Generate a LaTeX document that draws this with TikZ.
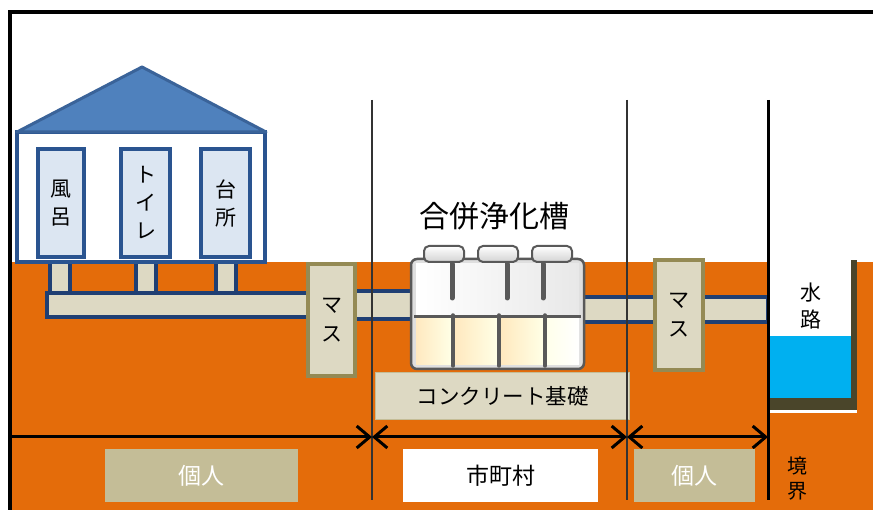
\documentclass[tikz,border=0pt]{standalone}
\usepackage{fontspec}
\setmainfont{Noto Sans CJK JP}
\usetikzlibrary{positioning,arrows.meta}

\definecolor{soil}{HTML}{E46C0A}
\definecolor{roofblue}{HTML}{4F81BD}
\definecolor{roofedge}{HTML}{3A6399}
\definecolor{navy}{HTML}{2A5490}
\definecolor{roomfill}{HTML}{DCE6F2}
\definecolor{pipeedge}{HTML}{1F3F73}
\definecolor{sand}{HTML}{DDD9C3}
\definecolor{olive}{HTML}{948A54}
\definecolor{khaki}{HTML}{C4BD97}
\definecolor{waterblue}{HTML}{00B0F0}
\definecolor{mud}{HTML}{4A452A}

\tikzset{
  room/.style={draw=navy, fill=roomfill, line width=4pt, minimum width=46pt, minimum height=108pt, align=center, font=\fontsize{21}{28}\selectfont},
  pipe/.style={draw=pipeedge, fill=sand, line width=4pt},
  masu/.style={draw=olive, fill=sand, line width=4pt, align=center, font=\fontsize{21}{29}\selectfont},
  tag/.style={fill=khaki, text=white, minimum height=52pt, font=\fontsize{23}{26}\selectfont},
  barb/.tip={Straight Barb[length=13pt,width=22pt]},
  dim/.style={line width=3pt}
}

\begin{document}
\begin{tikzpicture}[x=1pt, y=-1pt]
  \useasboundingbox (0,0) rectangle (873,510);
  \clip (0,0) rectangle (873,510);
  \fill[white] (0,0) rectangle (873,510);
  \draw[line width=4pt] (10,530) -- (10,12) -- (890,12);

  % ground
  \fill[soil] (12,262) rectangle (873,510);

  % drains under the house
  \foreach \x in {60,146,226}
    \draw[pipe] (\x-10,258) rectangle (\x+10,293);
  \draw[pipe] (47,293) rectangle (312,317);

  % house
  \draw[fill=white, draw=navy, line width=4pt] (17,132) rectangle (265,262);
  \draw[fill=roofblue, draw=roofedge, line width=3pt, line join=round] (17,132) -- (142,67) -- (266,132) -- cycle;
  \node[room] (bath) at (61,203) {風\\呂};
  \node[room, minimum width=49pt] (toilet) at (145.5,203) {ト\\イ\\レ};
  \node[room, minimum width=49pt] (kitchen) at (225.5,203) {台\\所};

  % pipes to the tank and to the channel
  \draw[pipe] (350,291) rectangle (414,319);
  \draw[pipe] (580,297) rectangle (660,322);
  \draw[pipe] (700,297) rectangle (768,322);

  \node[masu, minimum width=47pt, minimum height=112pt] (masuA) at (331.5,320) {マ\\ス};
  \node[masu, minimum width=48pt, minimum height=110pt] (masuB) at (679,315) {マ\\ス};

  % septic tank
  \node[draw=gray!70!black, fill=gray!25, line width=2.5pt, rounded corners=6pt,
        minimum width=173pt, minimum height=110pt] (tank) at (497.5,314) {};
  \foreach \x in {444,498,552}
    \draw[draw=gray!70!black, top color=white, bottom color=gray!35, line width=2pt, rounded corners=5pt]
      (\x-20,246) rectangle (\x+20,262);
  \shade[left color=white, right color=gray!18] (416,264) rectangle (579,315);
  \foreach \a/\b in {416/451, 455/497, 501/543}
    \shade[left color=yellow!30!orange!25, right color=yellow!10] (\a,319) rectangle (\b,365);
  \shade[left color=yellow!8, right color=white] (547,319) rectangle (579,365);
  \draw[gray!70!black, line width=3pt] (414,317) -- (581,317);
  \foreach \x in {453,499,545}
    \draw[gray!70!black, line width=3.5pt, line cap=round] (\x,315) -- (\x,366);
  \foreach \x in {452,507,543}
    \draw[gray!70!black, line width=5pt, line cap=round] (\x,264) -- (\x,298);
  \node[font=\fontsize{30}{34}\selectfont] (title) at (494,216) {合併浄化槽};

  \node[fill=sand, draw=khaki, line width=1pt, minimum width=254pt, minimum height=47pt,
        font=\fontsize{21.5}{26}\selectfont] (base) at (502.5,396) {コンクリート基礎};

  % water channel
  \fill[white] (770,262) rectangle (853,398);
  \fill[waterblue] (770,336) rectangle (853,398);
  \fill[mud] (770,398) rectangle (857,410);
  \fill[mud] (851,260) rectangle (857,410);
  \fill[white] (770,410) rectangle (857,413);
  \node[align=center, font=\fontsize{21}{27}\selectfont] (water) at (811,306) {水\\路};

  % borders
  \draw[black!80, line width=1.2pt] (372,100) -- (372,500);
  \draw[black!80, line width=1.2pt] (627,100) -- (627,500);
  \draw[line width=3pt] (768,100) -- (768,500);

  \coordinate (p0) at (12,437);
  \coordinate (p1) at (372,437);
  \coordinate (p2) at (627,437);
  \coordinate (p3) at (768,437);
  \draw[dim, -barb] (p0) -- (p1);
  \draw[dim, barb-barb] (p1) -- (p2);
  \draw[dim, barb-barb] (p2) -- (p3);

  \node[tag, minimum width=193pt] (ownerA) at (201.5,475.5) {個人};
  \node[tag, fill=white, text=black, minimum width=195pt] (town) at (500.5,475.5) {市町村};
  \node[tag, minimum width=121pt] (ownerB) at (694.5,475.5) {個人};
  \node[align=center, font=\fontsize{20}{25}\selectfont] (edge) at (797,478) {境\\界};
\end{tikzpicture}
\end{document}
